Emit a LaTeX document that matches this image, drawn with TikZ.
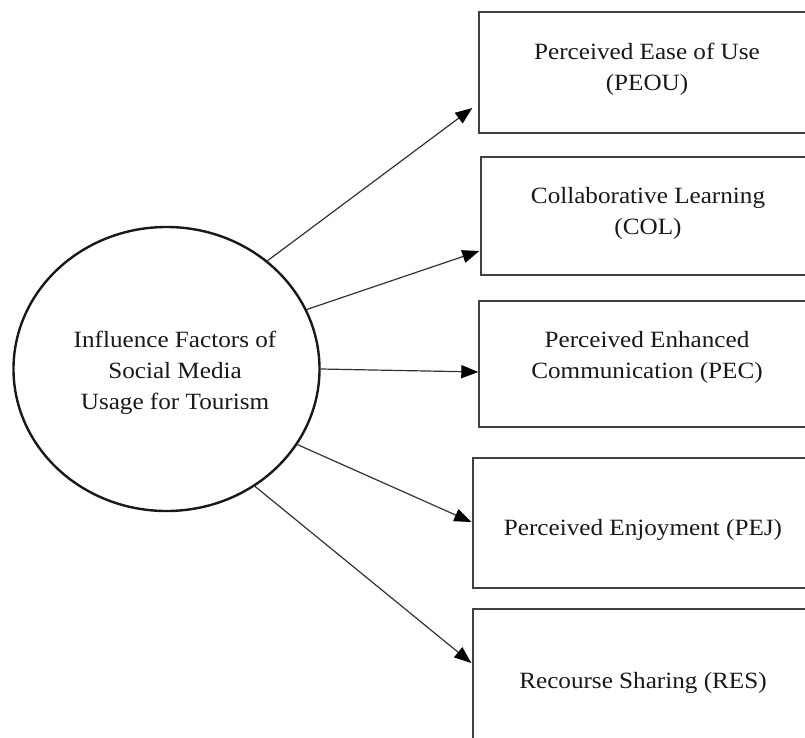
\documentclass[tikz,border=0pt]{standalone}
\usepackage{fontspec}
\setmainfont{Liberation Serif}
\usetikzlibrary{arrows.meta,shapes.geometric}
\begin{document}
\begin{tikzpicture}[x=1pt,y=1pt,
  boxnode/.style={draw=black!75,line width=1.4pt,rectangle,inner sep=0pt},
  lbl/.style={align=center,inner sep=0pt,xscale=1.08,font=\fontsize{23.3}{31}\selectfont,text=black!90},
  conn/.style={draw=black!80,line width=1.2pt,-{Triangle[length=17pt,width=13pt,fill=black,color=black]}}]
\useasboundingbox (0,0) rectangle (805,-738);
\clip (0,0) rectangle (805,-738);
\fill[white] (0,0) rectangle (805,-738);
% central ellipse
\node[ellipse,draw=black!90,line width=2.4pt,minimum width=306pt,minimum height=284pt,inner sep=0pt] (c) at (166.5,-369) {};
\node[lbl] (ct) at (175,-373) {Influence Factors of\\Social Media\\Usage for Tourism};
% boxes
\node[boxnode,minimum width=336pt,minimum height=121pt] (b1) at (647,-72.5) {};
\node[boxnode,minimum width=334pt,minimum height=118pt] (b2) at (648,-216) {};
\node[boxnode,minimum width=336pt,minimum height=126pt] (b3) at (647,-364) {};
\node[boxnode,minimum width=342pt,minimum height=130pt] (b4) at (644,-523) {};
\node[boxnode,minimum width=342pt,minimum height=148pt] (b5) at (644,-683) {};
% labels
\node[lbl] (t1) at (647,-69) {Perceived Ease of Use\\(PEOU)};
\node[lbl] (t2) at (648,-213) {Collaborative Learning\\(COL)};
\node[lbl] (t3) at (647,-357) {Perceived Enhanced\\Communication (PEC)};
\node[lbl] (t4) at (643,-530) {Perceived Enjoyment (PEJ)};
\node[lbl] (t5) at (643,-683) {Recourse Sharing (RES)};
% connectors
\draw[conn] (c.47.3) -- ([shift={(-6,-35.5)}]b1.west);
\draw[conn] (c.23.8) -- ([shift={(-1,-35)}]b2.west);
\draw[conn] (c.0) -- ([shift={(0,-8)}]b3.west);
\draw[conn] (c.-30) -- ([shift={(-1,1)}]b4.west);
\draw[conn] (c.-53.7) -- ([shift={(-1,20)}]b5.west);
\end{tikzpicture}
\end{document}
